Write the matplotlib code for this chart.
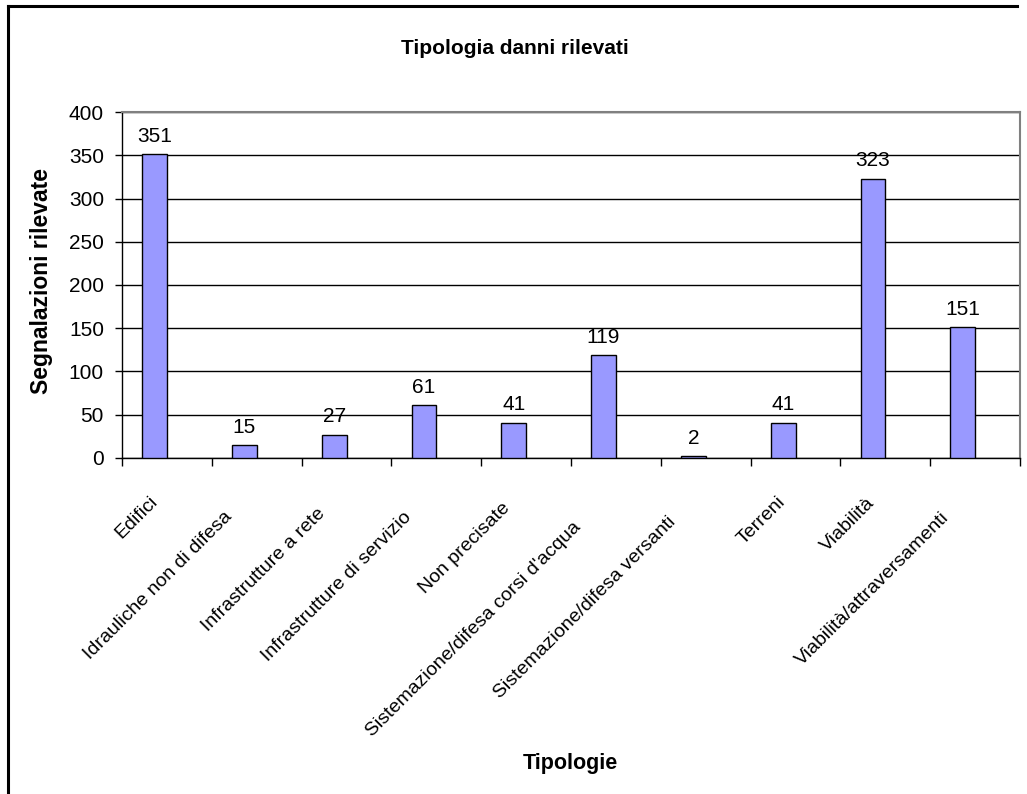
import matplotlib
matplotlib.use("Agg")
import matplotlib.pyplot as plt
from matplotlib.lines import Line2D
from matplotlib.transforms import offset_copy
import numpy as np

categories = ["Edifici", "Idrauliche non di difesa", "Infrastrutture a rete",
              "Infrastrutture di servizio", "Non precisate",
              "Sistemazione/difesa corsi d'acqua", "Sistemazione/difesa versanti",
              "Terreni", "Viabilità", "Viabilità/attraversamenti"]
values = [351, 15, 27, 61, 41, 119, 2, 41, 323, 151]
yticks = [0, 50, 100, 150, 200, 250, 300, 350, 400]

plt.rcParams['font.family'] = ['Liberation Sans', 'DejaVu Sans']
cat_family = ['Liberation Sans', 'DejaVu Sans']
cat_size = 14

W, H = 1027, 794
fig = plt.figure(figsize=(W / 100, H / 100), dpi=100)
ax = fig.add_axes([122 / W, 1 - 458 / H, 898 / W, 346 / H])

n = len(categories)
x = np.arange(n)
bw = 0.275
bar_x = x + 0.5 - bw / 2  # bar right edge sits at category centre
ax.bar(bar_x, values, width=bw, color="#9999FF", edgecolor="black", linewidth=1.0, zorder=3)

for bx, v in zip(bar_x, values):
    ax.annotate(str(v), (bx, v), xytext=(0, 6), textcoords="offset points",
                ha="center", va="bottom", fontsize=15, zorder=4)

ax.set_xlim(0, n)
ax.set_ylim(0, 400)
ax.set_yticks(yticks)
ax.set_yticklabels([str(t) for t in yticks], fontsize=15)
ax.set_xticks(np.arange(n + 1))
ax.set_xticklabels([])
ax.tick_params(axis="y", direction="out", length=5, width=1, pad=8)
ax.tick_params(axis="x", direction="out", length=6, width=1)
ax.grid(axis="y", color="black", linewidth=1.0, zorder=1)
ax.set_axisbelow(True)
for s in ["top", "right"]:
    ax.spines[s].set_color("#808080")
    ax.spines[s].set_linewidth(1.5)
for s in ["left", "bottom"]:
    ax.spines[s].set_color("black")
    ax.spines[s].set_linewidth(1.0)

# rotated category labels: end shifted back along the text by a fraction of its length
renderer = fig.canvas.get_renderer()
k = 0.107
for i, lab in enumerate(categories):
    probe = fig.text(0, 0, lab, fontsize=cat_size, family=cat_family)
    L = probe.get_window_extent(renderer).width
    probe.remove()
    tr = offset_copy(ax.transData, fig=fig, x=-12 - k * L, y=-29 - k * L, units="dots")
    ax.text(i + 0.5, 0, lab, transform=tr, rotation=45, rotation_mode="anchor",
            ha="right", va="top", fontsize=cat_size, family=cat_family, clip_on=False)

fig.text(515 / W, 1 - 48 / H, "Tipologia danni rilevati", ha="center", va="center",
         fontsize=15, fontweight="bold")
fig.text(42 / W, 1 - 281 / H, "Segnalazioni rilevate", ha="center", va="center",
         rotation=90, fontsize=16.5, fontweight="bold")
fig.text(570 / W, 1 - 764 / H, "Tipologie", ha="center", va="center",
         fontsize=15.5, fontweight="bold")

# figure border (left and top)
fig.add_artist(Line2D([7.5 / W, 7.5 / W], [0, 1 - 5.5 / H], transform=fig.transFigure,
                      color="black", linewidth=2.2))
fig.add_artist(Line2D([7.5 / W, 1017 / W], [1 - 5.5 / H, 1 - 5.5 / H], transform=fig.transFigure,
                      color="black", linewidth=2.2))

fig.savefig("out.png", dpi=100)
